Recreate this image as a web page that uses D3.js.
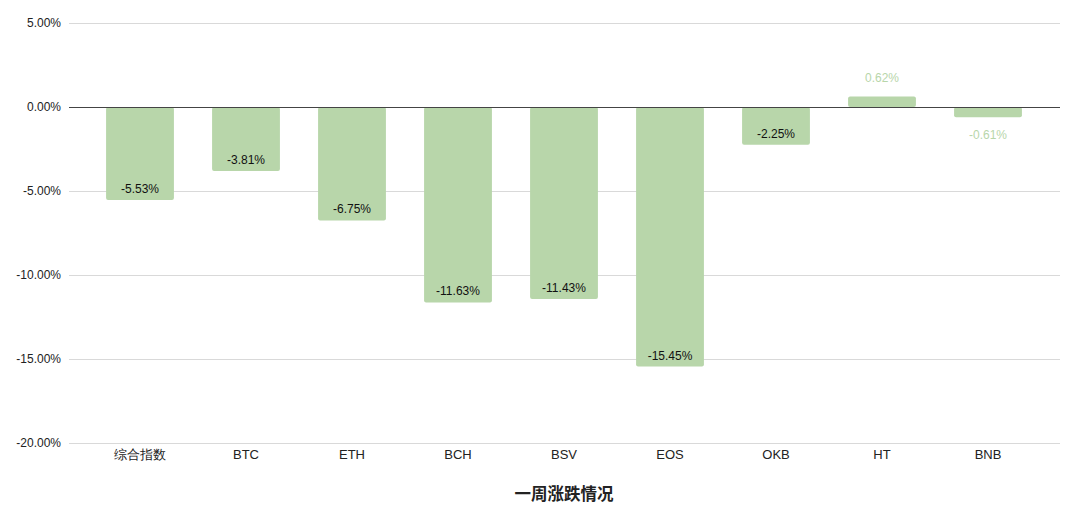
<!DOCTYPE html>
<html><head><meta charset="utf-8">
<script src="https://cdn.jsdelivr.net/npm/d3@7"></script>
<style>body{margin:0;background:#fff;}svg{display:block;font-family:"Liberation Sans","Noto Sans CJK SC",Arial,sans-serif;}</style>
</head><body>
<script>
const categories = ["综合指数","BTC","ETH","BCH","BSV","EOS","OKB","HT","BNB"];
const values = [-5.53,-3.81,-6.75,-11.63,-11.43,-15.45,-2.25,0.62,-0.61];
const yTicks = [5,0,-5,-10,-15,-20];
const title = "一周涨跌情况";

const W=1080,H=509;
const svg=d3.select("body").append("svg").attr("width",W).attr("height",H);
const x=d3.scaleBand().domain(categories).range([87,1041]).paddingInner(0.36).paddingOuter(0.18);
const y=d3.scaleLinear().domain([-20,5]).range([443,23]);
const fmt=v=>v.toFixed(2)+"%";

const yAxis=d3.axisLeft(y).tickValues(yTicks).tickFormat(fmt).tickSize(0).tickPadding(8);
const ga=svg.append("g").attr("transform","translate(69,0)").call(yAxis);
ga.select(".domain").remove();
ga.selectAll("text").attr("font-size",12).attr("fill","#222").attr("font-family","Liberation Sans, Arial, sans-serif");

svg.append("g").selectAll("line").data(yTicks.filter(d=>d!==0)).join("line")
 .attr("x1",69).attr("x2",1060).attr("y1",d=>y(d)+0.5).attr("y2",d=>y(d)+0.5)
 .attr("stroke","#d9d9d9").attr("stroke-width",1);

svg.append("g").selectAll("rect").data(values).join("rect")
 .attr("x",(d,i)=>x(categories[i])).attr("width",x.bandwidth())
 .attr("y",d=>y(Math.max(0,d))).attr("height",d=>Math.abs(y(d)-y(0)))
 .attr("rx",2).attr("fill","#b8d6aa");

svg.append("line").attr("x1",69).attr("x2",1060).attr("y1",y(0)+0.5).attr("y2",y(0)+0.5)
 .attr("stroke","#444").attr("stroke-width",1);

svg.append("g").selectAll("text").data(values).join("text")
 .attr("x",(d,i)=>x(categories[i])+x.bandwidth()/2)
 .attr("y",d=>{
   if(d>0) return y(d)-15;
   if(Math.abs(y(d)-y(0))<20) return y(d)+22;
   return y(d)-7;
 })
 .attr("text-anchor","middle").attr("font-size",12)
 .attr("fill",d=>Math.abs(y(d)-y(0))<20?"#b8d6aa":"#111")
 .text(fmt);

const gx=svg.append("g").attr("transform","translate(0,443)").call(d3.axisBottom(x).tickSize(0).tickPadding(7));
gx.select(".domain").remove();
gx.selectAll("text").attr("font-size",13).attr("fill","#222");

svg.append("text").attr("x",564).attr("y",500).attr("text-anchor","middle")
 .attr("font-size",16.5).attr("font-weight","bold").attr("fill","#222").text(title);
</script>
</body></html>
